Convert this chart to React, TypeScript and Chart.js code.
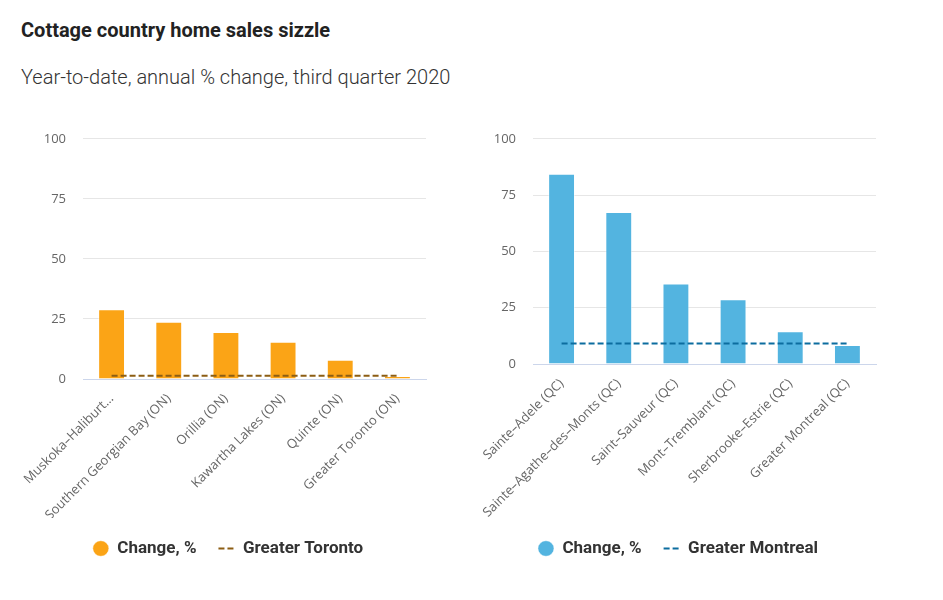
import React, { useEffect, useRef } from "react";
import { Chart, registerables } from "chart.js";

Chart.register(...registerables);

const TITLE = "Cottage country home sales sizzle";
const SUBTITLE = "Year-to-date, annual % change, third quarter 2020";

const ontarioCategories = [
  "Muskoka–Haliburt…",
  "Southern Georgian Bay (ON)",
  "Orillia (ON)",
  "Kawartha Lakes (ON)",
  "Quinte (ON)",
  "Greater Toronto (ON)",
];
const ontarioChange = [29, 23.8, 19.6, 15.5, 8, 1.2];
const ontarioBenchmark = [1.4, 1.4, 1.4, 1.4, 1.4, 1.4];

const quebecCategories = [
  "Sainte–Adele (QC)",
  "Sainte–Agathe–des–Monts (QC)",
  "Saint–Sauveur (QC)",
  "Mont–Tremblant (QC)",
  "Sherbrooke–Estrie (QC)",
  "Greater Montreal (QC)",
];
const quebecChange = [84.5, 67.5, 35.7, 28.8, 14.5, 8.4];
const quebecBenchmark = [9.1, 9.1, 9.1, 9.1, 9.1, 9.1];

const yTicks = [0, 25, 50, 75, 100];

type PanelProps = {
  categories: string[];
  values: number[];
  benchmark: number[];
  benchmarkLabel: string;
  barColor: string;
  lineColor: string;
  xAxisHeight: number;
  left: number;
};

const DASH = [6, 3];

function Panel(p: PanelProps) {
  const ref = useRef<HTMLCanvasElement | null>(null);
  useEffect(() => {
    if (!ref.current) return;
    const chart = new Chart(ref.current, {
      type: "bar",
      data: {
        labels: p.categories,
        datasets: [
          {
            type: "bar",
            label: "Change, %",
            data: p.values,
            backgroundColor: p.barColor,
            borderColor: "rgba(255,255,255,0.45)",
            borderWidth: 1,
            categoryPercentage: 1,
            barPercentage: 0.47,
            order: 1,
            pointStyle: "circle",
          } as any,
          {
            type: "line",
            label: p.benchmarkLabel,
            data: p.benchmark,
            borderColor: p.lineColor,
            backgroundColor: p.lineColor,
            borderWidth: 2,
            borderDash: DASH,
            pointRadius: 0,
            pointHoverRadius: 0,
            fill: false,
            order: 0,
            pointStyle: "line",
          } as any,
        ],
      },
      options: {
        animation: false,
        responsive: false,
        maintainAspectRatio: false,
        layout: { padding: { top: 13, left: 22, right: 22, bottom: 0 } },
        plugins: {
          title: { display: false },
          tooltip: { enabled: false },
          legend: {
            display: true,
            position: "bottom",
            labels: {
              usePointStyle: true,
              pointStyleWidth: 16,
              boxHeight: 11,
              padding: 22,
              color: "#333333",
              font: { family: "Roboto", size: 17, weight: "bold" },
              sort: (a: any, b: any) => a.datasetIndex - b.datasetIndex,
              generateLabels: (c: any) => {
                const items = (Chart.defaults.plugins.legend.labels as any).generateLabels(c);
                return items.map((it: any) => {
                  if (it.datasetIndex === 1) {
                    return { ...it, lineDash: DASH, lineWidth: 2, strokeStyle: p.lineColor };
                  }
                  return it;
                });
              },
            },
          },
        },
        scales: {
          x: {
            grid: { display: false, drawTicks: false },
            border: { display: true, color: "#ccd6eb", width: 1 },
            ticks: {
              autoSkip: false,
              minRotation: 45,
              maxRotation: 45,
              padding: 12,
              color: "#666666",
              font: { family: "Open Sans", size: 13 },
            },
            afterFit: (scale: any) => {
              scale.height = p.xAxisHeight;
            },
          },
          y: {
            min: 0,
            max: 100,
            afterBuildTicks: (scale: any) => {
              scale.ticks = yTicks.map((v) => ({ value: v }));
            },
            grid: { color: "#e6e6e6", drawTicks: false },
            border: { display: false },
            ticks: {
              padding: 17,
              color: "#666666",
              font: { family: "Open Sans", size: 13 },
            },
            afterFit: (scale: any) => {
              scale.width = 53;
            },
          },
        },
      },
    });
    return () => chart.destroy();
  }, []);
  return (
    <canvas
      ref={ref}
      width={440}
      height={453}
      style={{ position: "absolute", left: p.left, top: 114, width: 440, height: 453 }}
    />
  );
}

export default function App() {
  return (
    <div
      style={{
        position: "absolute",
        left: 0,
        top: 0,
        width: 943,
        height: 600,
        background: "#ffffff",
        fontFamily: "Roboto, sans-serif",
      }}
    >
      <div
        style={{
          position: "absolute",
          left: 21,
          top: 17,
          fontSize: 20,
          fontWeight: 700,
          color: "#222222",
          whiteSpace: "nowrap",
          lineHeight: "26px",
        }}
      >
        {TITLE}
      </div>
      <div
        style={{
          position: "absolute",
          left: 21,
          top: 64,
          fontSize: 20,
          fontWeight: 300,
          color: "#333333",
          whiteSpace: "nowrap",
          lineHeight: "26px",
        }}
      >
        {SUBTITLE}
      </div>
      <Panel
        categories={ontarioCategories}
        values={ontarioChange}
        benchmark={ontarioBenchmark}
        benchmarkLabel="Greater Toronto"
        barColor="#FBA416"
        lineColor="#8C5D13"
        xAxisHeight={139}
        left={8}
      />
      <Panel
        categories={quebecCategories}
        values={quebecChange}
        benchmark={quebecBenchmark}
        benchmarkLabel="Greater Montreal"
        barColor="#53B4E0"
        lineColor="#0C6D9F"
        xAxisHeight={154}
        left={458}
      />
    </div>
  );
}
